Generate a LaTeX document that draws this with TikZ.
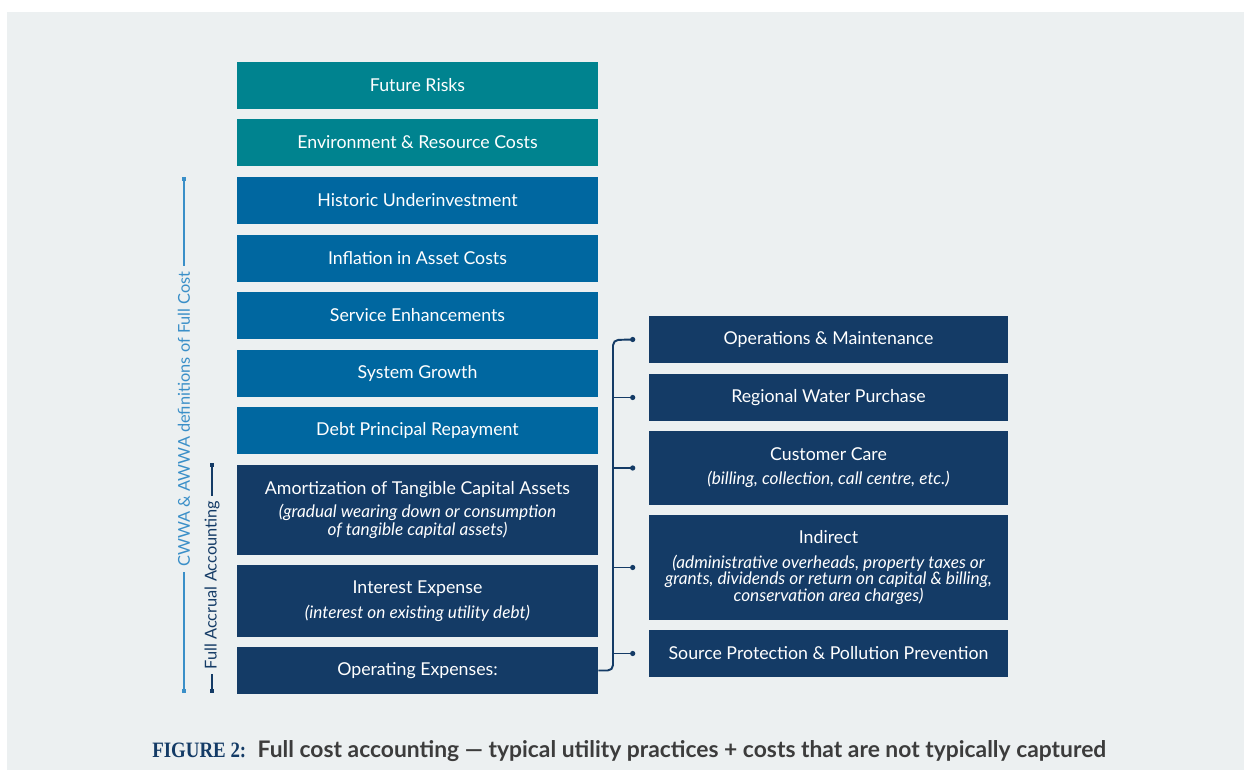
\documentclass[tikz,border=0pt]{standalone}
\usepackage{fontspec}
\setmainfont{Lato}
\newfontfamily\figfont[FakeStretch=0.86]{Liberation Serif}
\usetikzlibrary{arrows.meta,calc}

\definecolor{panelgray}{RGB}{236,240,241}
\definecolor{riskteal}{RGB}{0,131,143}
\definecolor{fullblue}{RGB}{0,103,160}
\definecolor{accrualnavy}{RGB}{20,59,102}
\definecolor{linkblue}{RGB}{58,143,200}
\definecolor{captiongray}{RGB}{60,60,60}

\newcommand\costnote[1]{{\fontsize{9.8}{10}\selectfont\itshape #1}}

\begin{document}
\begin{tikzpicture}[x=0.02cm,y=-0.02cm,
  costbox/.style={fill=#1, text=white, inner sep=0pt, align=center,
    minimum width=7.22cm, font=\fontsize{10.1}{10}\selectfont},
  opsbox/.style={costbox=accrualnavy, minimum width=7.18cm},
  conn/.style={accrualnavy, line width=1.1pt},
  branchdot/.style={circle, fill=accrualnavy, inner sep=0pt, minimum size=3pt},
  spanline/.style={line width=1pt, {Square[length=2pt,width=2.4pt]}-{Square[length=2pt,width=2.4pt]}},
  spanlabel/.style={rotate=90, fill=panelgray, inner xsep=3pt, font=\fontsize{9.3}{11}\selectfont}]

\def\boxH{0.94cm}
\def\leftX{417.5}
\def\rightX{828.5}

% background
\fill[white] (0,0) rectangle (1244,770);
\fill[panelgray] (7,12) rectangle (1244,770);

% left column: full cost stack
\node[costbox=riskteal, minimum height=\boxH] (future) at (\leftX,85.5) {Future Risks};
\node[costbox=riskteal, minimum height=\boxH] (environment) at (\leftX,142.5) {Environment \& Resource Costs};
\node[costbox=fullblue, minimum height=\boxH] (historic) at (\leftX,200.5) {Historic Underinvestment};
\node[costbox=fullblue, minimum height=\boxH] (inflation) at (\leftX,258.5) {Inflation in Asset Costs};
\node[costbox=fullblue, minimum height=\boxH] (service) at (\leftX,315.5) {Service Enhancements};
\node[costbox=fullblue, minimum height=\boxH] (growth) at (\leftX,373.5) {System Growth};
\node[costbox=fullblue, minimum height=\boxH] (debt) at (\leftX,430.5) {Debt Principal Repayment};
\node[costbox=accrualnavy, minimum height=1.8cm] (amortization) at (\leftX,510)
  {Amortization of Tangible Capital Assets\\[3pt]\costnote{(gradual wearing down or consumption}\\\costnote{of tangible capital assets)}};
\node[costbox=accrualnavy, minimum height=1.44cm] (interest) at (\leftX,601)
  {Interest Expense\\[4.2pt]\costnote{(interest on existing utility debt)}};
\node[costbox=accrualnavy, minimum height=\boxH] (opex) at (\leftX,670.5) {Operating Expenses:};

% right column: operating expenses
\node[opsbox, minimum height=\boxH] (operations) at (\rightX,339.5) {Operations \& Maintenance};
\node[opsbox, minimum height=\boxH] (purchase) at (\rightX,397.5) {Regional Water Purchase};
\node[opsbox, minimum height=1.48cm] (care) at (\rightX,468)
  {Customer Care\\[3.6pt]\costnote{(billing, collection, call centre, etc.)}};
\node[opsbox, minimum height=2.1cm] (indirect) at (\rightX,567.5)
  {Indirect\\[4.2pt]\costnote{(administrative overheads, property taxes or}\\[-0.4pt]\costnote{grants, dividends or return on capital \& billing,}\\[-0.4pt]\costnote{conservation area charges)}};
\node[opsbox, minimum height=\boxH] (protection) at (\rightX,653.5) {Source Protection \& Pollution Prevention};

% bracket from operating expenses
\coordinate (trunk) at (613,340);
\foreach \target in {operations,purchase,care,indirect,protection}
  \node[branchdot] (\target-dot) at ($(\target.west)+(-16,0)$) {};
\draw[conn, rounded corners=3pt] (opex.east) -| (trunk) -- (operations-dot.center);
\foreach \target in {purchase,care,indirect,protection}
  \draw[conn] (\target-dot.center -| trunk) -- (\target-dot.center);

% spans on the left
\coordinate (cwwa-top) at (184,177);
\coordinate (cwwa-bottom) at (184,693);
\coordinate (accrual-top) at (212,463);
\coordinate (accrual-bottom) at (212,693);
\draw[spanline, linkblue] (cwwa-bottom) -- (cwwa-top);
\node[spanlabel, text=linkblue] (cwwa) at (184,419) {CWWA \& AWWA definitions of Full Cost};
\draw[spanline, accrualnavy] (accrual-bottom) -- (accrual-top);
\node[spanlabel, text=accrualnavy] (accrual) at (212,585) {Full Accrual Accounting};

% caption
\node[anchor=base west, inner sep=0pt, font=\fontsize{13}{15}\selectfont\bfseries] (caption) at (152,757)
  {\textcolor{accrualnavy}{\figfont\fontsize{12.5}{15}\selectfont FIGURE 2:}\enspace\textcolor{captiongray}{Full cost accounting --- typical utility practices + costs that are not typically captured}};

\end{tikzpicture}
\end{document}
